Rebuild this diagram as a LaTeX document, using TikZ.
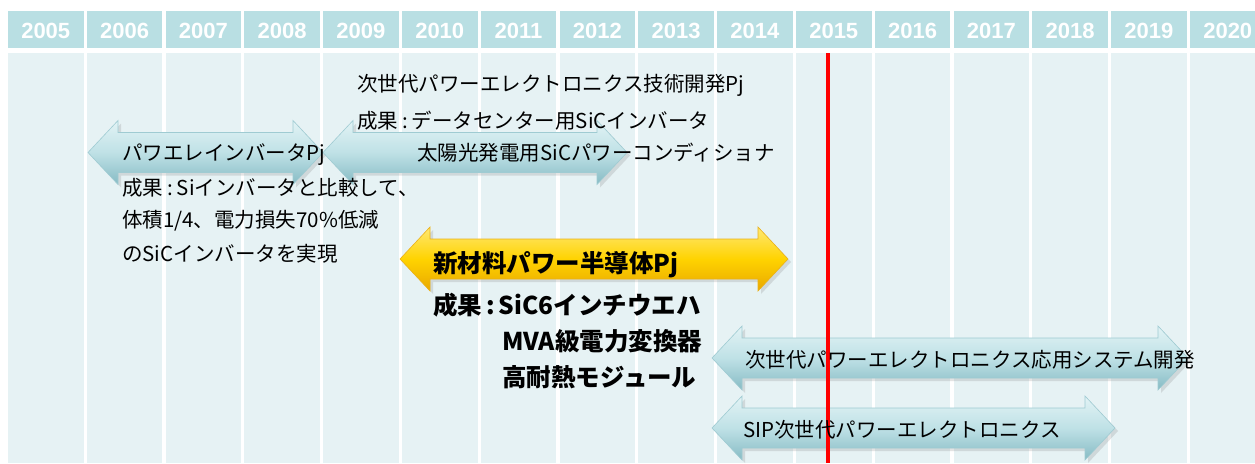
\documentclass[tikz,border=0pt]{standalone}
\usepackage{fontspec}
\setmainfont{Noto Sans CJK JP}
\newfontfamily\hdrfont{Liberation Sans}
\usetikzlibrary{shadows}
\definecolor{hdrcol}{HTML}{B9DFE3}
\definecolor{bodycol}{HTML}{E6F2F4}
\definecolor{redline}{HTML}{FF0000}
\definecolor{bluetop}{HTML}{E2F3F5}
\definecolor{bluemid}{HTML}{BFE1E6}
\definecolor{bluebot}{HTML}{86BBC4}
\definecolor{bluedge}{HTML}{9FCBD2}
\definecolor{yeltop}{HTML}{FFE873}
\definecolor{yelmid}{HTML}{FFD300}
\definecolor{yelbot}{HTML}{E9A800}
\newcommand{\dblarrow}[4]{%
  \path[#1] (#2,#4) -- (#2+30,#4-32) -- (#2+30,#4-20) -- (#3-30,#4-20) -- (#3-30,#4-32) -- (#3,#4)
    -- (#3-30,#4+32) -- (#3-30,#4+20) -- (#2+30,#4+20) -- (#2+30,#4+32) -- cycle;}
\newcommand{\colonsep}{\kern4pt:\kern4pt}
\tikzset{
  yeartxt/.style={text=white, font=\hdrfont\bfseries\fontsize{22}{24}\selectfont, inner sep=0pt},
  bluearrow/.style={top color=bluetop, bottom color=bluebot, middle color=bluemid, draw=bluedge, line width=0.6pt,
    drop shadow={opacity=0.22, shadow xshift=3pt, shadow yshift=-3pt}},
  yelarrow/.style={top color=yeltop, bottom color=yelbot, middle color=yelmid, draw=yelbot!90!white, line width=0.6pt,
    drop shadow={opacity=0.22, shadow xshift=3pt, shadow yshift=-3pt}},
  lbl/.style={anchor=west, inner sep=0pt, text=black, font=\fontsize{20.5}{24}\selectfont},
  blbl/.style={anchor=west, inner sep=0pt, text=black, font=\bfseries\fontsize{24.5}{28}\selectfont},
}
\begin{document}
\begin{tikzpicture}[x=1pt, y=-1pt]
\useasboundingbox (0,0) rectangle (1255,463);
\clip (0,0) rectangle (1255,463);
\fill[white] (0,0) rectangle (1255,463);
% columns
\foreach \i in {0,...,15} {
  \pgfmathsetmacro{\xx}{8+78.8*\i}
  \fill[hdrcol] (\xx,11) rectangle (\xx+75.5,47.7);
  \fill[bodycol] (\xx,52.7) rectangle (\xx+75.5,463);
  \node[yeartxt] (y\i) at (\xx+37.75,31.3) {\number\numexpr 2005+\i\relax};
}
% arrows
\dblarrow{bluearrow}{88}{323}{152.5}
\dblarrow{bluearrow}{323}{627}{152.5}
\dblarrow{yelarrow}{400}{788}{259}
\dblarrow{bluearrow}{712}{1188}{358}
\dblarrow{bluearrow}{712}{1115}{428}
% red line
\fill[redline] (826,52.7) rectangle (830,463);
% labels
\node[lbl] (pwinv) at (122,155) {パワエレインバータPj};
\node[lbl] (res1a) at (122,188) {成果\colonsep Siインバータと比較して、};
\node[lbl] (res1b) at (122,221) {体積1/4、電力損失70\%低減};
\node[lbl] (res1c) at (122,254) {のSiCインバータを実現};
\node[lbl] (nxt) at (357,85) {次世代パワーエレクトロニクス技術開発Pj};
\node[lbl] (res2a) at (357,121) {成果\colonsep データセンター用SiCインバータ};
\node[lbl] (res2b) at (417,153) {太陽光発電用SiCパワーコンディショナ};
\node[blbl] (newmat) at (433,265) {新材料パワー半導体Pj};
\node[blbl] (res3a) at (433,305) {成果\colonsep SiC6インチウエハ};
\node[blbl] (res3b) at (502,341) {MVA級電力変換器};
\node[blbl] (res3c) at (502,377) {高耐熱モジュール};
\node[lbl] (app) at (745,360) {次世代パワーエレクトロニクス応用システム開発};
\node[lbl] (sip) at (743,430) {SIP次世代パワーエレクトロニクス};
\end{tikzpicture}
\end{document}
